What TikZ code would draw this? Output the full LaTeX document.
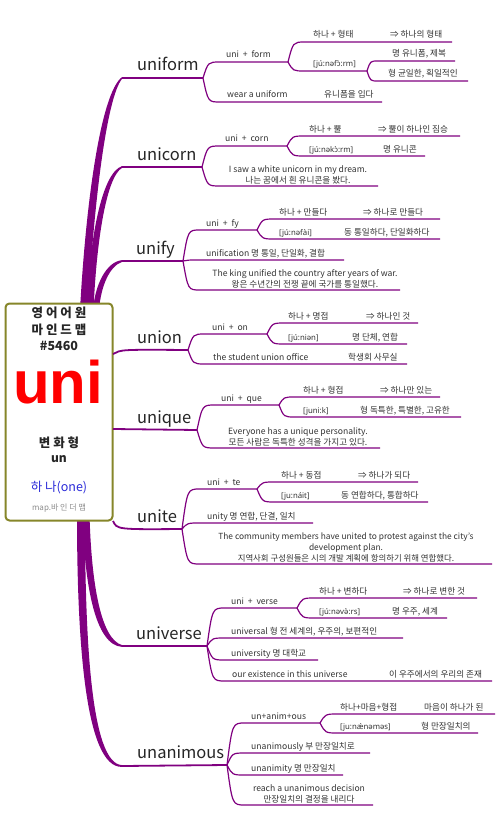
\documentclass[tikz,border=0pt]{standalone}
\usepackage{fontspec}
\setmainfont{Noto Sans CJK KR}
\newfontfamily\ipafont{Noto Sans}
\newfontfamily\unifont{Liberation Sans}
\usetikzlibrary{backgrounds,calc}
\definecolor{pcol}{HTML}{800080}
\definecolor{boxc}{HTML}{86862A}
\definecolor{txtc}{HTML}{333333}
\definecolor{bluec}{HTML}{2B2BD9}
\tikzset{
  sm/.style={font=\fontsize{8.6}{10}\selectfont, text=txtc, inner sep=0, anchor=base west},
  smc/.style={font=\fontsize{8.6}{10.6}\selectfont, text=txtc, inner sep=0, anchor=south, align=center},
  ipa/.style={font=\ipafont\fontsize{7.8}{10}\selectfont, text=txtc, inner sep=0, anchor=base west},
  wordn/.style={font=\fontsize{16.5}{18}\selectfont, text=black!85, inner sep=0, anchor=base west},
  hubt/.style={font=\bfseries\fontsize{12.5}{14}\selectfont, text=black!85, inner sep=0},
  br/.style={draw=pcol, line width=1.2},
  wl/.style={draw=pcol, line width=1.8},
}
\newcommand\kid[5]{% #1 parent, #2 name, #3 y, #4 x start, #5 x end
  \coordinate (#2) at (#4,#3);
  \coordinate (#2e) at (#5,#3);
  \draw[br] let \p1=(#1), \p2=(#2) in (#1) .. controls ({\x1+0.3*(\x2-\x1)},\y2) .. (#2) -- (#2e);}
\begin{document}
\begin{tikzpicture}[x=1pt,y=-1pt]
\useasboundingbox (0,0) rectangle (502,832);
% hub
\node[draw=boxc, line width=2, rounded corners=4, fill=white, minimum width=107, minimum height=217, inner sep=0] (hub) at (59,412) {};
\node[hubt] (h1) at (59,313) {영 어 어 원};
\node[hubt] (h2) at (59,330) {마 인 드 맵};
\node[hubt] (h3) at (59,346) {\#5460};
\node[anchor=base, font=\unifont\bfseries\fontsize{60}{60}\selectfont, text=red, inner sep=0] (h4) at (58,403) {uni};
\node[hubt] (h5) at (59,443) {변 화 형};
\node[hubt, font=\bfseries\fontsize{12}{14}\selectfont] (h6) at (59,459) {un};
\node[hubt, text=bluec, font=\fontsize{12.5}{14}\selectfont] (h7) at (59,488) {하 나(one)};
\node[font=\fontsize{8}{9}\selectfont, text=black!45, inner sep=0] (h8) at (59,508) {map.바 인 더 맵};

\begin{scope}[on background layer]
\fill[white] (0,0) rectangle (502,832);
% trunks (tapered)
\fill[pcol] (80,310) .. controls (86,200) and (101,93) .. (122,77.1) -- (122,78.9) .. controls (107,97) and (94,200) .. (88,310) -- cycle;
\fill[pcol] (86.5,310) .. controls (89.5,240) and (101.5,173) .. (122,166.1) -- (122,167.9) .. controls (106.5,177) and (96.5,240) .. (93.5,310) -- cycle;
\fill[pcol] (93,310) .. controls (95,285) and (106,262) .. (122,260.1) -- (122,261.9) .. controls (110,266) and (101,285) .. (99,310) -- cycle;
\fill[pcol] (82.5,515) .. controls (84.5,585) and (95,645) .. (122,646.9) -- (122,645.1) .. controls (101,639) and (91.5,585) .. (89.5,515) -- cycle;
\fill[pcol] (77,515) .. controls (77,640) and (85,768) .. (122,766.9) -- (122,765.1) .. controls (91,764) and (85,640) .. (85,515) -- cycle;
\end{scope}

% ---------- uniform
\coordinate (T1) at (122,78); \coordinate (B1) at (203,78);
\draw[wl] (T1) -- (B1);
\node[wordn] (w1) at (137,71) {uniform};
\kid{B1}{a1}{62}{220}{288}
\node[sm] (a1t) at (226,58) {uni \ + \ form};
\kid{B1}{b1}{102}{220}{382}
\node[sm] (b1t) at (227,98) {wear a uniform};
\node[sm] (b1k) at (324,98) {유니폼을 입다};
\kid{a1e}{c1}{42}{305}{452}
\node[sm] (c1t) at (313,38) {하나 + 형태};
\node[sm] (c1k) at (390,38) {⇒ 하나의 형태};
\kid{a1e}{d1}{71}{305}{367}
\node[ipa] (d1t) at (313,67) {[jú:nəfɔ̀:rm]};
\kid{d1e}{e1}{61}{378}{455}
\node[sm] (e1t) at (392,57) {명 유니폼, 제복};
\kid{d1e}{f1}{81}{378}{468}
\node[sm] (f1t) at (388,77) {형 균일한, 획일적인};

% ---------- unicorn
\coordinate (T2) at (122,167); \coordinate (B2) at (202,167);
\draw[wl] (T2) -- (B2);
\node[wordn] (w2) at (137,160) {unicorn};
\kid{B2}{a2}{146}{220}{287}
\node[sm] (a2t) at (225,142) {uni \ + \ corn};
\kid{B2}{b2}{186}{220}{378}
\node[smc] (b2t) at (298,184) {I saw a white unicorn in my dream.\\나는 꿈에서 흰 유니콘을 봤다.};
\kid{a2e}{c2}{136}{305}{460}
\node[sm] (c2t) at (309,132) {하나 + 뿔};
\node[sm] (c2k) at (378,132) {⇒ 뿔이 하나인 짐승};
\kid{a2e}{d2}{156}{305}{425}
\node[ipa] (d2t) at (309,152) {[jú:nəkɔ̀:rm]};
\node[sm] (d2k) at (383,152) {명 유니콘};

% ---------- unify
\coordinate (T3) at (122,261); \coordinate (B3) at (183,261);
\draw[wl] (T3) -- (B3);
\node[wordn] (w3) at (136,254) {unify};
\kid{B3}{a3}{230}{200}{257}
\node[sm] (a3t) at (206,226) {uni \ + \ fy};
\kid{B3}{b3}{260}{200}{344}
\node[sm] (b3t) at (206,256) {unification 명 통일, 단일화, 결합};
\kid{B3}{c3}{290}{200}{400}
\node[smc] (c3t) at (305,288) {The king unified the country after years of war.\\왕은 수년간의 전쟁 끝에 국가를 통일했다.};
\kid{a3e}{d3}{219}{275}{440}
\node[sm] (d3t) at (279,215) {하나 + 만들다};
\node[sm] (d3k) at (363,215) {⇒ 하나로 만들다};
\kid{a3e}{e3}{239}{275}{440}
\node[ipa] (e3t) at (279,235) {[jú:nəfài]};
\node[sm] (e3k) at (344,235) {동 통일하다, 단일화하다};

% ---------- union
\coordinate (S4) at (113,354); \coordinate (B4) at (188,350);
\draw[wl] (S4) .. controls (121,349.5) .. (B4);
\node[wordn] (w4) at (137,343) {union};
\kid{B4}{a4}{334}{205}{267}
\node[sm] (a4t) at (212,330) {uni \ + \ on};
\kid{B4}{b4}{364}{205}{407}
\node[sm] (b4t) at (213,360) {the student union office};
\node[sm] (b4k) at (348,360) {학생회 사무실};
\kid{a4e}{c4}{323}{285}{418}
\node[sm] (c4t) at (288,319) {하나 + 명접};
\node[sm] (c4k) at (366,319) {⇒ 하나인 것};
\kid{a4e}{d4}{344}{285}{407}
\node[ipa] (d4t) at (288,340) {[jú:niən]};
\node[sm] (d4k) at (352,340) {명 단체, 연합};

% ---------- unique
\coordinate (S5) at (113,429); \coordinate (B5) at (197,430);
\draw[wl] (S5) -- (B5);
\node[wordn] (w5) at (137,423) {unique};
\kid{B5}{a5}{405}{215}{279}
\node[sm] (a5t) at (221,401) {uni \ + \ que};
\kid{B5}{b5}{448}{215}{380}
\node[smc] (b5t) at (298,446) {Everyone has a unique personality.\\모든 사람은 독특한 성격을 가지고 있다.};
\kid{a5e}{c5}{397}{295}{440}
\node[sm] (c5t) at (303,393) {하나 + 형접};
\node[sm] (c5k) at (380,393) {⇒ 하나만 있는};
\kid{a5e}{d5}{417}{295}{461}
\node[ipa] (d5t) at (303,413) {[juni:k]};
\node[sm] (d5k) at (360,413) {형 독특한, 특별한, 고유한};

% ---------- unite
\coordinate (S6) at (113,521); \coordinate (B6) at (182,529);
\draw[wl] (S6) .. controls (117,529.5) .. (B6);
\node[wordn] (w6) at (137,522) {unite};
\kid{B6}{a6}{489}{200}{257}
\node[sm] (a6t) at (207,485) {uni \ + \ te};
\kid{B6}{b6}{523}{200}{313}
\node[sm] (b6t) at (207,519) {unity 명 연합, 단결, 일치};
\kid{B6}{c6}{564}{200}{492}
\node[smc, font=\fontsize{8.4}{10.6}\selectfont] (c6t) at (346,562) {The community members have united to protest against the city's\\development plan.\\지역사회 구성원들은 시의 개발 계획에 항의하기 위해 연합했다.};
\kid{a6e}{d6}{482}{275}{418}
\node[sm] (d6t) at (281,478) {하나 + 동접};
\node[sm] (d6k) at (358,478) {⇒ 하나가 되다};
\kid{a6e}{e6}{502}{275}{428}
\node[ipa] (e6t) at (281,498) {[ju:náit]};
\node[sm] (e6k) at (341,498) {동 연합하다, 통합하다};

% ---------- universe
\coordinate (T7) at (122,646); \coordinate (B7) at (207,646);
\draw[wl] (T7) -- (B7);
\node[wordn] (w7) at (136,639) {universe};
\kid{B7}{a7}{608}{225}{297}
\node[sm] (a7t) at (231,604) {uni \ + \ verse};
\kid{B7}{b7}{638}{225}{403}
\node[sm] (b7t) at (231,634) {universal 형 전 세계의, 우주의, 보편적인};
\kid{B7}{c7}{660}{225}{318}
\node[sm] (c7t) at (231,656) {university 명 대학교};
\kid{B7}{d7}{681}{225}{492}
\node[sm] (d7t) at (232,677) {our existence in this universe};
\node[sm] (d7k) at (389,677) {이 우주에서의 우리의 존재};
\kid{a7e}{e7}{598}{315}{477}
\node[sm] (e7t) at (319,594) {하나 + 변하다};
\node[sm] (e7k) at (403,594) {⇒ 하나로 변한 것};
\kid{a7e}{f7}{618}{315}{447}
\node[ipa] (f7t) at (319,614) {[jú:nəvə̀:rs]};
\node[sm] (f7k) at (392,614) {명 우주, 세계};

% ---------- unanimous
\coordinate (T8) at (122,766); \coordinate (B8) at (227,765);
\draw[wl] (T8) -- (B8);
\node[wordn] (w8) at (137,758) {unanimous};
\kid{B8}{a8}{723}{245}{320}
\node[sm] (a8t) at (251,719) {un+anim+ous};
\kid{B8}{b8}{753}{245}{370}
\node[sm] (b8t) at (251,749) {unanimously 부 만장일치로};
\kid{B8}{c8}{775}{245}{343}
\node[sm] (c8t) at (251,771) {unanimity 명 만장일치};
\kid{B8}{d8}{805}{245}{373}
\node[smc] (d8t) at (309,803) {reach a unanimous decision\\만장일치의 결정을 내리다};
\kid{a8e}{e8}{714}{338}{495}
\node[sm] (e8t) at (340,710) {하나+마음+형접};
\node[sm] (e8k) at (424,710) {마음이 하나가 된};
\kid{a8e}{f8}{733}{338}{478}
\node[ipa] (f8t) at (340,729) {[ju:nǽnəməs]};
\node[sm] (f8k) at (421,729) {형 만장일치의};
\end{tikzpicture}
\end{document}
